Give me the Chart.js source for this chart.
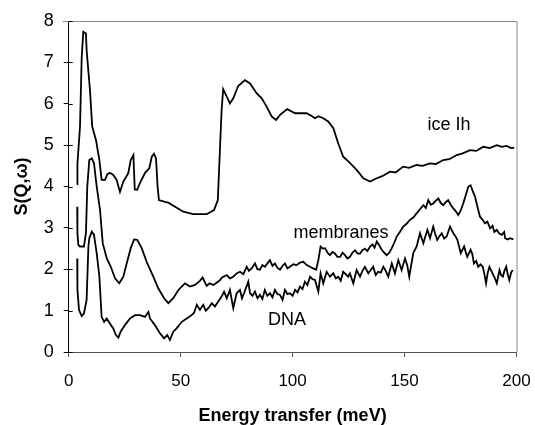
<!DOCTYPE html>
<html>
<head>
<meta charset="utf-8">
<script src="https://cdn.jsdelivr.net/npm/chart.js@4.4.1/dist/chart.umd.min.js"></script>
<style>
  html, body { margin: 0; padding: 0; background: #fff; }
  #wrap { width: 535px; height: 425px; }
</style>
</head>
<body>
<div id="wrap"><canvas id="sqwChart"></canvas></div>
<script>
// Energy transfer (meV) and S(Q,w) values

const iceX = [3.8, 3.9, 5.05, 5.8, 6.5, 7.7, 8.0, 9.5, 10.5, 12.2, 13.7, 14.7, 16.2, 17.3, 18.4, 19.9, 21.4, 22.9, 24.4, 26.6,
  27.7, 28.9, 29.5, 30.6, 31.8, 34.1, 36.0, 37.1, 38.1, 39.0, 39.7, 40.3, 43.0, 44.5, 47.5, 51.2, 55.6, 61.6, 64.9, 66.6,
  67.6, 68.3, 69.0, 70.6, 72.0, 73.5, 75.7, 78.7, 81.0, 84.0, 86.2, 88.4, 90.7, 92.6, 94.4, 97.6, 101.1, 106.3, 108.0, 110.0,
  111.5, 113.7, 115.9, 118.2, 120.4, 122.6, 125.6, 128.6, 131.6, 134.6, 137.6, 140.0, 143.5, 146.0, 149.4, 152.0, 155.4, 158.0, 161.4, 164.0,
  167.3, 170.0, 173.3, 176.0, 179.2, 182.0, 185.2, 188.0, 191.2, 193.5, 195.6, 197.5, 199.0];
const iceY = [4.05, 4.55, 5.45, 7.10, 7.74, 7.70, 7.30, 6.33, 5.45, 5.12, 4.64, 4.16, 4.16, 4.30, 4.33, 4.28, 4.16, 3.87, 4.12, 4.32,
  4.64, 4.76, 3.93, 3.92, 4.08, 4.33, 4.44, 4.72, 4.79, 4.68, 4.00, 3.67, 3.63, 3.61, 3.51, 3.39, 3.33, 3.33, 3.43, 3.67,
  4.96, 5.85, 6.35, 6.17, 6.01, 6.13, 6.43, 6.57, 6.49, 6.25, 6.13, 5.93, 5.69, 5.61, 5.73, 5.87, 5.77, 5.77, 5.72, 5.65,
  5.70, 5.65, 5.57, 5.41, 5.04, 4.72, 4.57, 4.40, 4.20, 4.12, 4.20, 4.25, 4.36, 4.34, 4.48, 4.45, 4.52, 4.50, 4.56, 4.54,
  4.64, 4.66, 4.76, 4.80, 4.88, 4.86, 4.96, 4.93, 5.00, 4.96, 4.98, 4.93, 4.94];

const memX = [3.8, 3.9, 4.3, 5.0, 6.8, 7.7, 8.3, 9.2, 10.3, 11.3, 12.5, 14.0, 15.2, 17.0, 18.8, 20.7, 22.6, 24.4, 25.9, 27.7,
  29.2, 30.6, 32.6, 35.1, 37.8, 40.0, 42.6, 44.5, 46.7, 49.0, 51.9, 54.2, 56.4, 58.6, 59.8, 61.6, 63.0, 64.6, 67.3, 68.5,
  70.6, 72.0, 73.5, 75.0, 76.5, 78.0, 79.5, 80.5, 81.7, 83.2, 84.3, 85.4, 86.5, 87.6, 89.0, 89.9, 91.0, 92.1, 93.2, 94.4,
  95.5, 96.6, 97.7, 98.8, 100.3, 101.8, 103.3, 104.8, 106.3, 107.8, 109.2, 110.5, 111.5, 112.5, 113.5, 114.5, 115.6, 116.7, 117.8, 118.9,
  120.0, 121.2, 122.3, 123.4, 124.5, 125.6, 126.7, 127.9, 129.0, 130.1, 131.2, 132.3, 133.4, 134.6, 135.7, 136.6, 137.6, 138.7, 139.8, 140.9,
  142.0, 143.2, 144.3, 145.4, 146.5, 147.9, 149.4, 150.9, 152.4, 153.9, 155.4, 156.9, 158.4, 159.5, 160.6, 161.7, 162.8, 164.0, 165.1, 166.2,
  167.3, 168.4, 169.5, 170.6, 171.8, 172.9, 174.0, 175.1, 176.2, 177.3, 178.5, 179.5, 180.5, 181.5, 182.6, 183.7, 184.8, 185.9, 187.0, 188.2,
  189.3, 190.1, 191.2, 192.3, 193.4, 194.5, 194.9, 196.0, 197.1, 198.6];
const memY = [3.51, 2.87, 2.59, 2.55, 2.55, 2.87, 4.00, 4.64, 4.68, 4.56, 4.00, 3.43, 2.63, 2.26, 2.06, 1.78, 1.66, 1.82, 2.14, 2.51,
  2.72, 2.71, 2.51, 2.14, 1.82, 1.54, 1.30, 1.18, 1.30, 1.50, 1.66, 1.58, 1.62, 1.72, 1.80, 1.60, 1.66, 1.62, 1.72, 1.80,
  1.86, 1.78, 1.82, 1.90, 1.94, 1.88, 2.06, 1.96, 2.02, 2.14, 2.00, 1.99, 2.10, 2.06, 2.16, 2.22, 2.08, 2.14, 2.04, 1.99,
  2.08, 2.14, 2.02, 2.06, 2.12, 2.10, 2.16, 2.18, 2.10, 2.06, 2.02, 1.99, 2.22, 2.55, 2.50, 2.51, 2.40, 2.34, 2.42, 2.38,
  2.30, 2.30, 2.40, 2.34, 2.26, 2.30, 2.40, 2.46, 2.38, 2.38, 2.46, 2.50, 2.44, 2.55, 2.60, 2.52, 2.67, 2.58, 2.47, 2.40,
  2.34, 2.40, 2.51, 2.64, 2.79, 2.90, 3.03, 3.10, 3.19, 3.25, 3.35, 3.45, 3.55, 3.48, 3.67, 3.56, 3.59, 3.66, 3.71, 3.60,
  3.55, 3.62, 3.67, 3.56, 3.47, 3.40, 3.31, 3.42, 3.59, 3.78, 4.00, 4.03, 3.88, 3.75, 3.50, 3.27, 3.20, 3.11, 3.15, 2.99,
  3.05, 2.90, 2.95, 2.86, 2.83, 2.90, 2.75, 2.72, 2.75, 2.72];

const dnaX = [3.8, 3.9, 4.6, 5.8, 6.8, 8.0, 8.8, 9.2, 10.3, 11.3, 12.5, 13.7, 14.7, 15.8, 17.0, 18.4, 19.9, 21.1, 22.2, 23.2,
  25.1, 27.4, 29.6, 31.8, 34.1, 35.6, 36.3, 38.5, 40.8, 42.6, 44.0, 45.2, 46.7, 48.2, 50.5, 52.7, 54.9, 56.0, 57.2, 58.6,
  60.1, 61.2, 62.4, 63.9, 65.3, 66.8, 68.3, 69.4, 70.6, 72.0, 73.5, 75.0, 76.5, 77.4, 78.3, 80.2, 81.0, 82.1, 83.2, 84.3,
  85.4, 86.5, 87.6, 88.7, 89.9, 91.0, 92.1, 93.2, 94.4, 95.5, 96.6, 97.7, 98.8, 100.0, 101.1, 102.2, 103.3, 104.4, 105.5, 106.6,
  107.8, 108.9, 110.0, 111.5, 112.5, 113.7, 115.2, 116.7, 118.2, 119.3, 120.4, 121.5, 122.6, 123.7, 124.8, 125.6, 127.1, 128.6, 130.1, 131.2,
  132.3, 133.8, 134.9, 136.0, 137.1, 138.2, 139.4, 140.5, 141.6, 142.7, 144.3, 145.7, 147.2, 148.7, 150.2, 151.2, 152.1, 153.9, 155.4, 156.9,
  158.4, 159.3, 160.2, 161.4, 162.8, 163.7, 164.6, 165.6, 166.6, 167.7, 168.8, 169.6, 170.3, 171.8, 172.7, 173.6, 175.1, 176.6, 177.3, 178.0,
  179.5, 180.3, 181.0, 182.0, 182.9, 183.9, 184.9, 185.6, 186.4, 187.1, 187.9, 189.3, 190.2, 191.2, 192.4, 193.1, 193.9, 194.6, 195.4, 196.1,
  196.8, 197.6, 198.3];
const dnaY = [2.26, 1.50, 1.02, 0.87, 0.93, 1.26, 2.55, 2.75, 2.91, 2.83, 2.39, 1.82, 0.85, 0.73, 0.81, 0.69, 0.57, 0.41, 0.35, 0.49,
  0.65, 0.81, 0.89, 0.89, 0.85, 0.97, 0.81, 0.65, 0.45, 0.33, 0.41, 0.29, 0.49, 0.57, 0.73, 0.81, 0.89, 0.95, 1.14, 1.02,
  1.14, 1.00, 1.06, 1.18, 1.10, 1.22, 1.34, 1.46, 1.30, 1.50, 1.06, 1.42, 1.50, 1.30, 1.42, 1.70, 1.42, 1.36, 1.46, 1.30,
  1.38, 1.28, 1.50, 1.36, 1.42, 1.32, 1.50, 1.40, 1.38, 1.26, 1.50, 1.40, 1.42, 1.36, 1.50, 1.44, 1.58, 1.52, 1.70, 1.62,
  1.82, 1.76, 1.74, 1.46, 1.90, 1.66, 1.94, 1.82, 1.90, 1.78, 1.82, 1.72, 1.94, 1.88, 1.82, 1.90, 1.66, 1.98, 1.82, 1.96,
  2.06, 1.90, 1.98, 2.06, 1.86, 1.94, 1.92, 2.06, 1.96, 1.82, 2.14, 1.90, 2.22, 1.98, 2.26, 2.10, 1.82, 2.39, 2.55, 2.87,
  2.63, 2.80, 2.95, 2.75, 3.03, 2.85, 2.71, 2.80, 2.87, 2.74, 2.79, 2.92, 3.03, 2.87, 2.80, 2.71, 2.39, 2.55, 2.42, 2.30,
  2.47, 2.36, 2.14, 2.20, 2.06, 2.12, 2.06, 1.90, 1.66, 1.90, 2.06, 1.90, 1.80, 1.66, 1.98, 1.86, 1.82, 1.96, 2.06, 1.88,
  1.74, 1.92, 1.98];

// curve labels: [text, x, y] in data units
const curveLabels = [
  ['ice Ih', 169.9, 5.49],
  ['membranes', 121.6, 2.88],
  ['DNA', 97.5, 0.77]
];

const xTicks = [0, 50, 100, 150, 200];
const yTicks = [0, 1, 2, 3, 4, 5, 6, 7, 8];

const FONT = "'Liberation Sans', Arial, sans-serif";

function toPoints(xs, ys) {
  return xs.map((x, i) => ({ x: x, y: ys[i] }));
}

function lineSet(label, xs, ys) {
  return {
    label: label,
    data: toPoints(xs, ys),
    borderColor: '#000',
    borderWidth: 1.8,
    pointRadius: 0,
    tension: 0,
    fill: false
  };
}

// Draws the curve names, the grey frame on the top / right and the
// inner half of the y tick marks
const decorPlugin = {
  id: 'decor',
  afterDatasetsDraw(chart) {
    const ctx = chart.ctx;
    const xs = chart.scales.x, ys = chart.scales.y;
    const area = chart.chartArea;
    ctx.save();
    ctx.strokeStyle = '#8a8a8a';
    ctx.lineWidth = 1;
    ctx.beginPath();
    ctx.moveTo(area.left - 6, area.top + 0.5);
    ctx.lineTo(area.right + 0.5, area.top + 0.5);
    ctx.lineTo(area.right + 0.5, area.bottom);
    ctx.stroke();

    ctx.strokeStyle = '#000';
    ctx.beginPath();
    yTicks.forEach(function(v) {
      const py = Math.round(ys.getPixelForValue(v)) + 0.5;
      ctx.moveTo(area.left, py);
      ctx.lineTo(area.left + 4, py);
    });
    ctx.stroke();

    ctx.fillStyle = '#000';
    ctx.font = '18px ' + FONT;
    ctx.textAlign = 'center';
    ctx.textBaseline = 'middle';
    curveLabels.forEach(function(l) {
      ctx.fillText(l[0], xs.getPixelForValue(l[1]), ys.getPixelForValue(l[2]));
    });
    ctx.restore();
  }
};

const ctx = document.getElementById('sqwChart').getContext('2d');
new Chart(ctx, {
  type: 'line',
  data: {
    datasets: [
      lineSet('ice Ih', iceX, iceY),
      lineSet('membranes', memX, memY),
      lineSet('DNA', dnaX, dnaY)
    ]
  },
  options: {
    responsive: true,
    maintainAspectRatio: false,
    animation: false,
    layout: { padding: { left: 11, top: 21, right: 18.5, bottom: 0 } },
    plugins: {
      legend: { display: false },
      tooltip: { enabled: false }
    },
    scales: {
      x: {
        type: 'linear',
        min: 0,
        max: 200,
        afterBuildTicks: function(scale) {
          scale.ticks = xTicks.map(v => ({ value: v }));
        },
        afterFit: function(scale) {
          scale.height = 73;
          scale.paddingLeft = 0;
          scale.paddingRight = 0;
        },
        grid: { drawOnChartArea: false, tickLength: 5, color: '#555' },
        border: { color: '#555', width: 1 },
        ticks: {
          color: '#000',
          padding: 14,
          maxRotation: 0,
          font: { family: FONT, size: 17 }
        },
        title: {
          display: true,
          text: 'Energy transfer (meV)',
          color: '#000',
          padding: 0,
          font: { family: FONT, size: 18, weight: 'bold', lineHeight: 1.05 }
        }
      },
      y: {
        type: 'linear',
        min: 0,
        max: 8,
        afterBuildTicks: function(scale) {
          scale.ticks = yTicks.map(v => ({ value: v }));
        },
        afterFit: function(scale) {
          scale.width = 57.7;
          scale.paddingTop = 0;
          scale.paddingBottom = 0;
        },
        grid: { drawOnChartArea: false, tickLength: 5, color: '#000' },
        border: { color: '#000', width: 1 },
        ticks: {
          color: '#000',
          padding: 10,
          font: { family: FONT, size: 18 }
        },
        title: {
          display: true,
          text: 'S(Q,\u03c9)',
          color: '#000',
          padding: 0,
          font: { family: FONT, size: 18, weight: 'bold' }
        }
      }
    }
  },
  plugins: [decorPlugin]
});
</script>
</body>
</html>
